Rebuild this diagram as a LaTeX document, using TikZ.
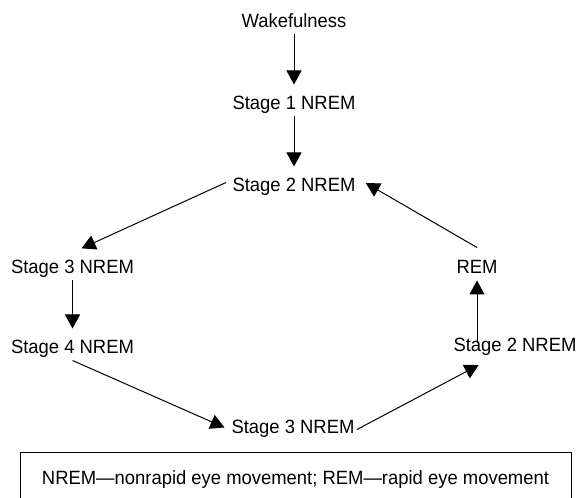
\documentclass[tikz,border=0pt]{standalone}
\usepackage{fontspec}
\setmainfont{Liberation Sans}[FakeStretch=0.96]
\usetikzlibrary{arrows.meta}
\begin{document}
\begin{tikzpicture}[x=1pt, y=1pt, >={Triangle[length=14pt,width=15pt]}, line join=round, line width=1pt, font=\fontsize{19.2}{22}\selectfont]
	\tikzset{stage/.style={anchor=base, inner sep=2pt, text height=13pt, text depth=4pt},
		arr/.style={->, shorten >=10pt}}
	\useasboundingbox (0,0) rectangle (579,498);
	% sleep stages
	\node[stage] (wake) at (294,470) {Wakefulness};
	\node[stage] (s1) at (294,388) {Stage 1 NREM};
	\node[stage] (s2t) at (294,306) {Stage 2 NREM};
	\node[stage] (s3l) at (72.5,224) {Stage 3 NREM};
	\node[stage] (s4l) at (72.5,144) {Stage 4 NREM};
	\node[stage] (s3b) at (293,64) {Stage 3 NREM};
	\node[stage] (s2r) at (515,146) {Stage 2 NREM};
	\node[stage] (rem) at (477,224) {REM};
	% key
	\node[draw, anchor=base, minimum width=551pt, text height=21pt, text depth=4pt, inner ysep=11pt] (key) at (295.5,13) {NREM---nonrapid eye movement; REM---rapid eye movement};
	% cycle
	\foreach \a/\b in {wake/s1, s1/s2t, s3l/s4l}{
		\draw[arr] (\a.south) -- (\b.north);
	}
	\draw[arr] ([shift={(-4pt,5pt)}]s2t.west) -- ([yshift=6pt]s3l.north);
	\draw[arr, shorten >=5pt] (s4l.south) -- (s3b.west);
	\draw[arr, shorten >=14pt] (s3b.east) -- ([xshift=-24pt]s2r.south);
	\draw[arr, shorten <=-7pt, shorten >=0pt] (rem.south |- s2r.north) -- (rem.south);
	\draw[arr, shorten >=9pt] ([yshift=11pt]rem.north) -- ([yshift=9pt]s2t.east);
\end{tikzpicture}
\end{document}
